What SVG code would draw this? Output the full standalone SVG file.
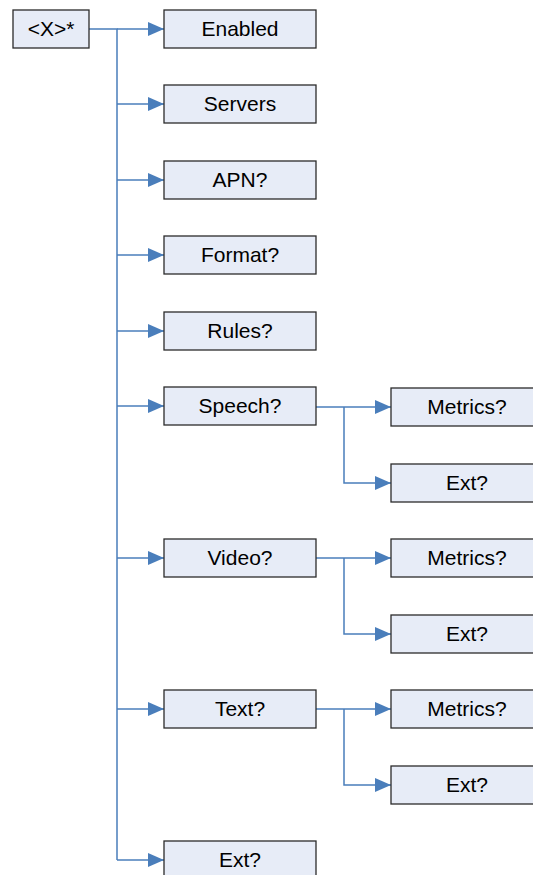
<svg xmlns="http://www.w3.org/2000/svg" width="533" height="875" viewBox="0 0 533 875">
<defs>
<style>
.box{fill:#E7ECF7;stroke:#2b2b2b;stroke-width:1.3}
.t{font-family:"Liberation Sans",Arial,sans-serif;font-size:21px;fill:#000;text-anchor:middle;dominant-baseline:central}
.c{fill:none;stroke:#4A7EBB;stroke-width:1.5}
</style>
<marker id="ah" markerWidth="16" markerHeight="14" refX="16" refY="7" orient="auto" markerUnits="userSpaceOnUse"><path d="M0,0 L16,7 L0,14 Z" fill="#4A7EBB"/></marker>
</defs>
<rect width="533" height="875" fill="#fff"/>
<g id="connectors">
<path class="c" d="M89,29 H117 V860"/>
<path class="c" d="M117,29 H164" marker-end="url(#ah)"/>
<path class="c" d="M117,104 H164" marker-end="url(#ah)"/>
<path class="c" d="M117,180 H164" marker-end="url(#ah)"/>
<path class="c" d="M117,255 H164" marker-end="url(#ah)"/>
<path class="c" d="M117,331 H164" marker-end="url(#ah)"/>
<path class="c" d="M117,406 H164" marker-end="url(#ah)"/>
<path class="c" d="M117,558 H164" marker-end="url(#ah)"/>
<path class="c" d="M117,709 H164" marker-end="url(#ah)"/>
<path class="c" d="M117,860 H164" marker-end="url(#ah)"/>
<path class="c" d="M316,407 H391" marker-end="url(#ah)"/>
<path class="c" d="M344,407 V483 H391" marker-end="url(#ah)"/>
<path class="c" d="M316,558 H391" marker-end="url(#ah)"/>
<path class="c" d="M344,558 V634 H391" marker-end="url(#ah)"/>
<path class="c" d="M316,709 H391" marker-end="url(#ah)"/>
<path class="c" d="M344,709 V785 H391" marker-end="url(#ah)"/>
</g>
<g id="root"><rect class="box" x="13" y="10" width="76" height="38"/><text class="t" x="51" y="28">&lt;X&gt;*</text></g>
<g id="enabled"><rect class="box" x="164" y="10" width="152" height="38"/><text class="t" x="240" y="28">Enabled</text></g>
<g id="servers"><rect class="box" x="164" y="85" width="152" height="38"/><text class="t" x="240" y="103">Servers</text></g>
<g id="apn"><rect class="box" x="164" y="161" width="152" height="38"/><text class="t" x="240" y="179">APN?</text></g>
<g id="format"><rect class="box" x="164" y="236" width="152" height="38"/><text class="t" x="240" y="254">Format?</text></g>
<g id="rules"><rect class="box" x="164" y="312" width="152" height="38"/><text class="t" x="240" y="330">Rules?</text></g>
<g id="speech"><rect class="box" x="164" y="387" width="152" height="38"/><text class="t" x="240" y="405">Speech?</text></g>
<g id="video"><rect class="box" x="164" y="539" width="152" height="38"/><text class="t" x="240" y="557">Video?</text></g>
<g id="text"><rect class="box" x="164" y="690" width="152" height="38"/><text class="t" x="240" y="708">Text?</text></g>
<g id="ext"><rect class="box" x="164" y="841" width="152" height="38"/><text class="t" x="240" y="859">Ext?</text></g>
<g id="speech-metrics"><rect class="box" x="391" y="388" width="152" height="38"/><text class="t" x="467" y="406">Metrics?</text></g>
<g id="speech-ext"><rect class="box" x="391" y="464" width="152" height="38"/><text class="t" x="467" y="482">Ext?</text></g>
<g id="video-metrics"><rect class="box" x="391" y="539" width="152" height="38"/><text class="t" x="467" y="557">Metrics?</text></g>
<g id="video-ext"><rect class="box" x="391" y="615" width="152" height="38"/><text class="t" x="467" y="633">Ext?</text></g>
<g id="text-metrics"><rect class="box" x="391" y="690" width="152" height="38"/><text class="t" x="467" y="708">Metrics?</text></g>
<g id="text-ext"><rect class="box" x="391" y="766" width="152" height="38"/><text class="t" x="467" y="784">Ext?</text></g>
</svg>
